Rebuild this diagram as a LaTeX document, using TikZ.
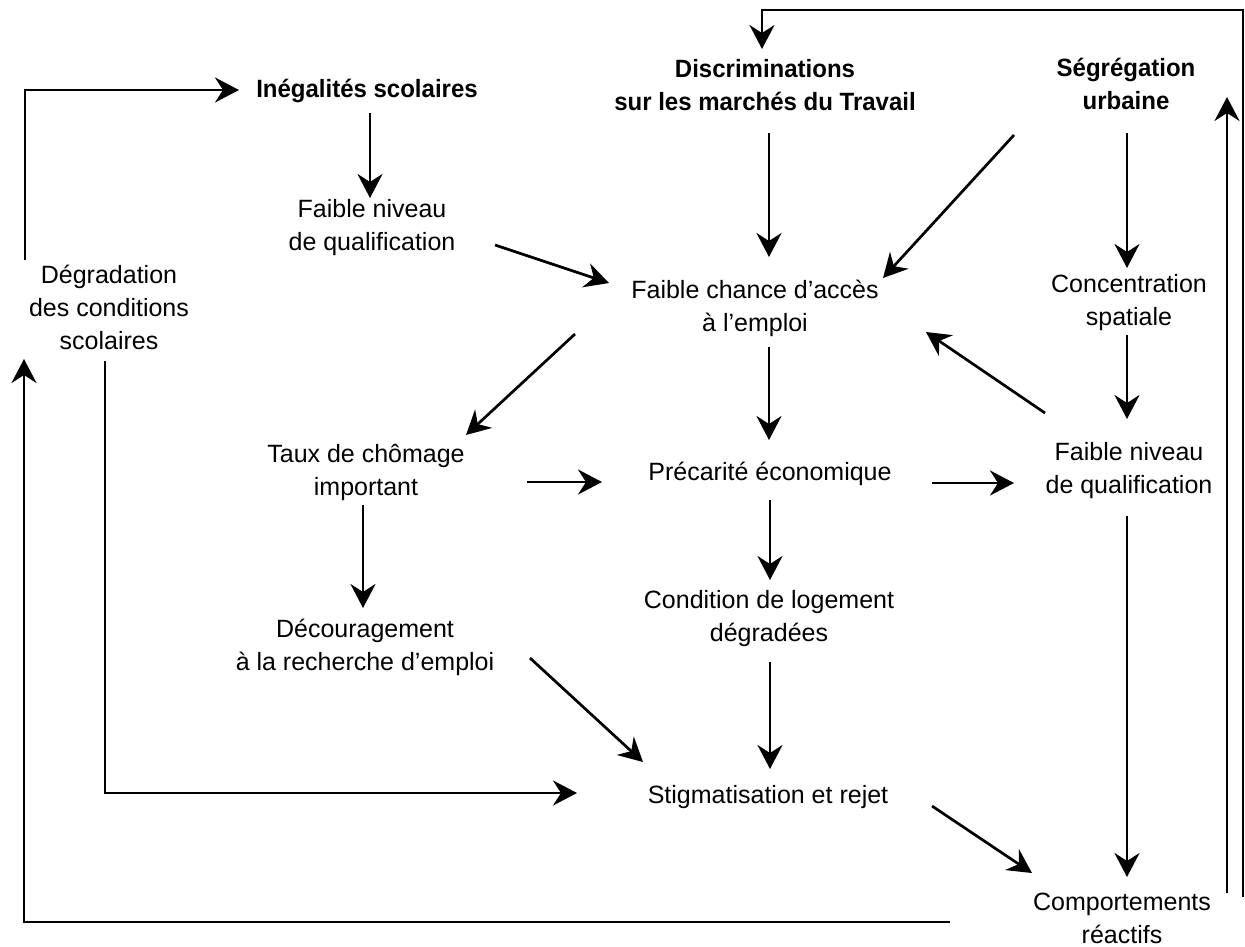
\documentclass[tikz,border=0pt]{standalone}
\usepackage{fontspec}
\setmainfont{Liberation Sans}[BoldFeatures={FakeStretch=0.96}]
\usetikzlibrary{arrows.meta}
\newcommand\topstrut{\rule{0pt}{24pt}}
\tikzset{
  lbl/.style={anchor=north, inner sep=0pt, align=center, font=\fontsize{25}{33}\selectfont},
  blbl/.style={lbl, font=\fontsize{25}{33}\selectfont\bfseries},
  ln/.style={line width=2.7pt},
  arr/.style={ln, -{Stealth[length=24pt,width=25pt,inset=8pt]}}
}
\begin{document}
\begin{tikzpicture}[x=1pt,y=-1pt]
\useasboundingbox (0,0) rectangle (1245,946);
% nodes
\node[blbl] (ineg) at (367,73) {\topstrut Inégalités scolaires};
\node[lbl] (fnqa) at (372,193) {\topstrut Faible niveau\\de qualification};
\node[blbl] (discr) at (765,53) {\topstrut Discriminations\\sur les marchés du Travail};
\node[blbl] (segr) at (1126,52) {\topstrut Ségrégation\\urbaine};
\node[lbl] (fca) at (755,274) {\topstrut Faible chance d’accès\\à l’emploi};
\node[lbl] (conc) at (1129,268) {\topstrut Concentration\\spatiale};
\node[lbl] (degr) at (109,259) {\topstrut Dégradation\\des conditions\\scolaires};
\node[lbl] (taux) at (366,438) {\topstrut Taux de chômage\\important};
\node[lbl] (prec) at (770,456) {\topstrut Précarité économique};
\node[lbl] (fnqb) at (1129,436) {\topstrut Faible niveau\\de qualification};
\node[lbl] (decour) at (365,613) {\topstrut Découragement\\à la recherche d’emploi};
\node[lbl] (cond) at (769,584) {\topstrut Condition de logement\\dégradées};
\node[lbl] (stig) at (768,779) {\topstrut Stigmatisation et rejet};
\node[lbl] (comp) at (1122,886) {\topstrut Comportements\\réactifs};
% connectors
\draw[arr] ([shift={(3,40)}]ineg.north) -- ([shift={(-2,5)}]fnqa.north);
\draw[arr] ([shift={(123,52)}]fnqa.north) -- ([shift={(-146,9)}]fca.north);
\draw[arr] ([shift={(4,80)}]discr.north) -- ([shift={(14,-17)}]fca.north);
\draw[arr] ([shift={(-112,83)}]segr.north) -- ([shift={(128,4)}]fca.north);
\draw[arr] ([shift={(1,81)}]segr.north) -- ([shift={(-2,0)}]conc.north);
\draw[arr] ([shift={(-180,60)}]fca.north) -- ([shift={(100,-3)}]taux.north);
\draw[arr] ([shift={(14,73)}]fca.north) -- ([shift={(-1,-16)}]prec.north);
\draw[arr] ([shift={(-84,-23)}]fnqb.north) -- ([shift={(171,58)}]fca.north);
\draw[arr] ([shift={(-2,67)}]conc.north) -- ([shift={(-2,-17)}]fnqb.north);
\draw[arr] ([shift={(161,44)}]taux.north) -- ([shift={(-168,26)}]prec.north);
\draw[arr] ([shift={(162,27)}]prec.north) -- ([shift={(-115,47)}]fnqb.north);
\draw[arr] ([shift={(-3,67)}]taux.north) -- ([shift={(-2,-5)}]decour.north);
\draw[arr] ([shift={(0,44)}]prec.north) -- ([shift={(1,-4)}]cond.north);
\draw[arr] ([shift={(165,45)}]decour.north) -- ([shift={(-125,-17)}]stig.north);
\draw[arr] ([shift={(1,78)}]cond.north) -- ([shift={(2,-10)}]stig.north);
\draw[arr] ([shift={(-4,102)}]degr.north) |- ([shift={(-191,14)}]stig.north);
\draw[arr] ([shift={(164,27)}]stig.north) -- ([shift={(-90,-13)}]comp.north);
\draw[arr] ([shift={(-2,80)}]fnqb.north) -- ([shift={(5,-9)}]comp.north);
\draw[arr] ([shift={(-172,36)}]comp.north) -| ([shift={(-85,100)}]degr.north);
\draw[arr] ([shift={(-84,1)}]degr.north) |- ([shift={(-128,17)}]ineg.north);
\draw[arr] ([shift={(105,7)}]comp.north) -- ([shift={(101,45)}]segr.north);
\draw[arr] ([shift={(121,11)}]comp.north) -- ++(0,-887) -| ([shift={(-3,-4)}]discr.north);
\end{tikzpicture}
\end{document}
